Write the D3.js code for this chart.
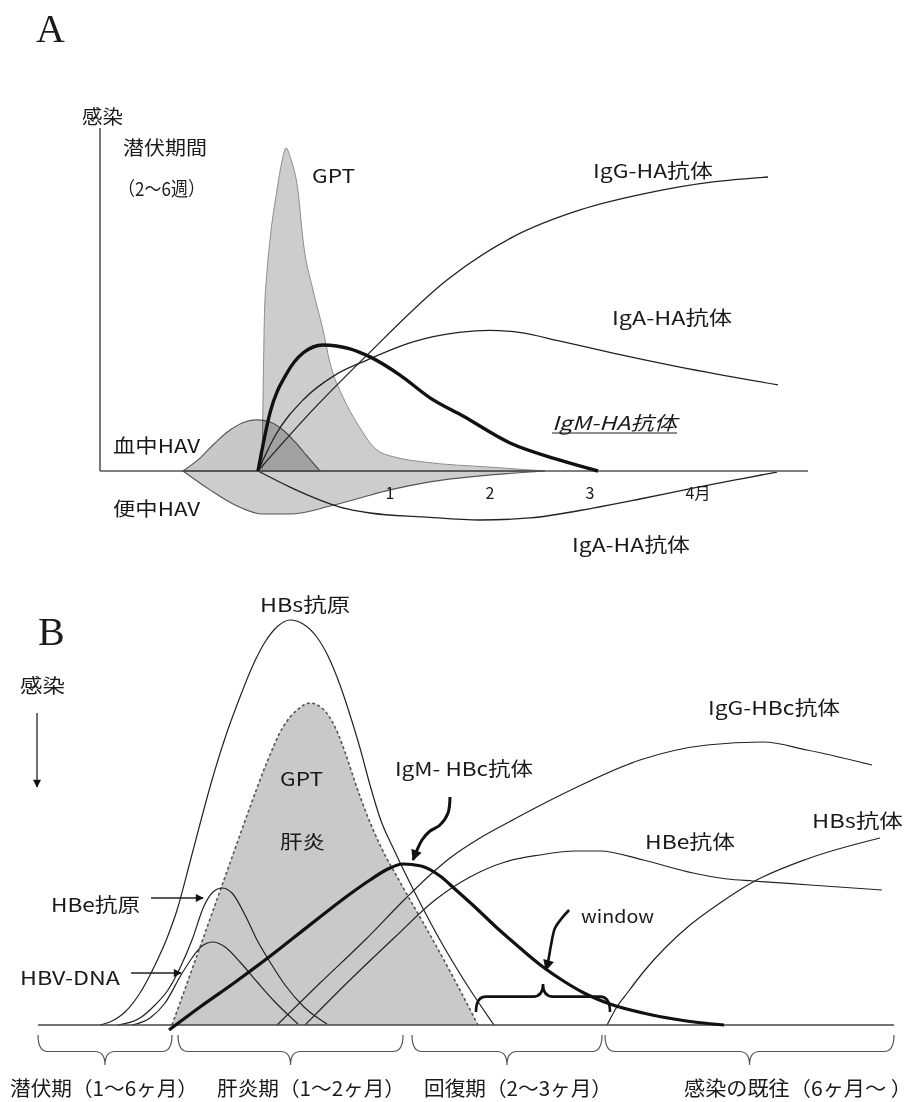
<!DOCTYPE html>
<html><head><meta charset="utf-8">
<script src="https://cdn.jsdelivr.net/npm/d3@7"></script>
<style>
body{margin:0;background:#fff;}
text{font-family:"Noto Sans CJK JP","Noto Sans",sans-serif;fill:#1a1a1a;}
</style></head><body>
<svg id="c" width="916" height="1102"></svg>
<script>
// ---------- Panel A data: [month, level] ----------
const aTickMonths = [1, 2, 3, 4];
const aTickLabels = ["1", "2", "3", "4月"];
const aBaselineExtent = [-1.89, 5.19];
const aAxisTop = 98;
const aBloodHAV = [[-1.06,0],[-0.89,3.7],[-0.74,8],[-0.59,11.7],[-0.44,14],[-0.32,14.6],[-0.19,14],[-0.06,11.7],[0.06,8.3],[0.18,4.3],[0.31,0]];
const aStoolHAV = [[-1.06,0],[-0.79,-5.4],[-0.54,-9.7],[-0.26,-12.3],[0.01,-12.3],[0.41,-10],[0.71,-7.7],[1.01,-5.4],[1.41,-3.1],[1.91,-1.4],[2.56,0]];
const aGPT = [[-0.27,0],[-0.26,20],[-0.245,45],[-0.22,57],[-0.19,66],[-0.12,80.3],[-0.07,88.5],[-0.03,92.3],[0.02,89],[0.09,80],[0.14,66],[0.24,51.7],[0.34,40.3],[0.41,30.9],[0.54,21.1],[0.68,13.7],[0.88,6],[1.1,3.7],[1.34,2.6],[2.01,1.1],[2.56,0]];
const aIgM = [[-0.31,0],[-0.19,16.6],[-0.02,28],[0.14,33.7],[0.34,36],[0.61,34.9],[0.81,32.6],[1.11,27.4],[1.41,20.9],[1.74,15.7],[2.21,8],[2.71,3.1],[3.09,0]];
const aIgG = [[-0.31,0],[0.21,16.6],[0.78,33.1],[1.58,54.6],[2.24,66.9],[2.91,74.6],[3.58,79.4],[4.24,82.6],[4.79,84]];
const aIgAUpper = [[-0.31,0],[-0.14,10],[0.14,20.3],[0.46,27.4],[0.78,31.7],[1.24,36.9],[1.7,39.6],[2.0,40.2],[2.3,39.6],[2.7,37.2],[3.24,33.7],[3.91,29.7],[4.89,24.6]];
const aIgALower = [[-0.31,0],[0.01,-4.6],[0.31,-8.3],[0.51,-10.3],[0.81,-12],[1.34,-13.1],[1.91,-14],[2.41,-13.4],[3.04,-10.6],[3.51,-8],[4.04,-4.9],[4.51,-2.3],[4.88,-0.3]];

// ---------- Panel B data: [time unit, level] ----------
const bBaselineExtent = [0, 107];
const bHBsAg = [[7.75,0],[9.25,1],[10.88,3.25],[12.75,8],[14.63,15],[16.13,21.75],[17.38,28.75],[19,40.75],[20.25,50.25],[21.75,61.25],[23.38,71.75],[25.25,82],[26.88,90],[28.38,95.75],[30,99.75],[31.5,101.25],[33.13,100.25],[34.75,97.25],[36.25,92.25],[37.75,85],[39,77.5],[40.25,69.25],[41.5,60],[42.75,51.75],[44.63,43.25],[47.13,33],[50.25,21.25],[53.63,10],[57,0]];
const bGPT = [[16.75,0],[19,12.5],[21.5,26.5],[24,40.5],[26.5,54.5],[28.63,65.75],[30.63,74.5],[32.38,78.75],[34,80.5],[35.63,79],[37.13,74.5],[38.5,67.5],[39.75,60],[41.13,52.5],[42.75,45],[45.25,35.75],[48.38,24.75],[51.75,12.5],[55,0]];
const bHBeAg = [[10,0],[12.75,1.75],[14.63,5],[16.25,8.75],[17.75,14.25],[19.25,21.25],[20.75,29.75],[21.88,33.25],[23,34.25],[24.25,33],[25.88,27.5],[27.38,21.25],[29,15.75],[30.88,10],[33.25,4.5],[36.13,0.25]];
const bHBVDNA = [[11.75,0],[14,1.75],[15.88,5.5],[17.88,12.5],[19.25,16.75],[20.5,19.75],[21.88,20.75],[23.38,19.5],[25.25,15.75],[27.5,10.5],[29.63,5.75],[32.5,0.25]];
const bIgMHBc = [[16.38,-1.25],[20.25,4.5],[24.5,10.5],[28.38,16.25],[31.75,21.5],[35.25,27],[39,32.75],[41.5,36.25],[43.5,38.75],[45.63,40.25],[47.88,39.75],[50.25,37.25],[52.25,33.75],[54.75,29.25],[57.25,24.5],[60.25,19.25],[63.13,14.5],[65.88,10.75],[68.25,8],[71.5,5.25],[75.63,3],[80.25,1.25],[85.75,0]];
const bIgGHBc = [[29.88,0],[35.25,10.5],[40.88,21.25],[45.88,31.5],[49,37.5],[51.5,41.75],[55.25,46.75],[58.63,50.5],[66.88,59],[75.25,66.25],[83.63,70],[90.63,70.75],[96.13,68.75],[104.25,65]];
const bHBeAb = [[33.38,0],[39,11.25],[44.63,22],[49.63,31.25],[54,37],[58.38,40.75],[62.75,42.5],[67.13,43.5],[70.25,43.5],[75.63,41.25],[81.88,38],[86.13,36.5],[89.38,36],[96.5,35],[105.5,33.75]];
const bHBsAb = [[71.13,0],[72.13,3.75],[73.75,8.25],[75.88,13.75],[78.38,19.25],[81.5,25],[85.25,30.5],[89.38,35.75],[96.13,41.5],[105.25,46.75]];
const bPeriods = [[0,16.75],[17.5,45.63],[46.75,70.5],[70.88,107]];
const bPeriodLabels = ["潜伏期（1〜6ヶ月）","肝炎期（1〜2ヶ月）","回復期（2〜3ヶ月）","感染の既往（6ヶ月〜 ）"];
const bWindow = [54.75, 71.5];
const bIgMArrow = [[51.5,57],[51.25,53],[50.25,50],[49,48.5],[48,46.25],[47.38,43.75],[46.88,41.25]];
const bWindowArrow = [[66.38,28.75],[65.5,26.75],[64.63,24.25],[64.13,20],[63.75,15.75],[63.5,13.75]];
const bHBeArrow = [[14.13,31.75],[20.63,31.75]];
const bHBVArrow = [[11.63,13],[17.88,13]];

// ---------- scales ----------
const xA = d3.scaleLinear().domain([0,4]).range([289,689]);
const yA = d3.scaleLinear().domain([0,100]).range([471,121]);
const xB = d3.scaleLinear().domain([0,107]).range([38,894]);
const yB = d3.scaleLinear().domain([0,100]).range([1025,625]);

const svg = d3.select("#c");
const defs = svg.append("defs");
function marker(id, w, h){
  defs.append("marker").attr("id",id).attr("viewBox","0 0 10 10").attr("refX",9).attr("refY",5)
    .attr("markerWidth",w).attr("markerHeight",h).attr("markerUnits","userSpaceOnUse").attr("orient","auto")
    .append("path").attr("d","M0,0L10,5L0,10z").attr("fill","#111");
}
marker("ah",10,8); marker("ahBig",13,11);

function label(g, str, x1, x2, cy, size, opts={}){
  const t = g.append("text").attr("x",x1).attr("y",cy).attr("dominant-baseline","central")
    .attr("font-size",size).text(str);
  if (x2) t.attr("textLength",x2-x1).attr("lengthAdjust","spacingAndGlyphs");
  if (opts.italic) t.attr("font-style","italic");
  if (opts.family) t.style("font-family",opts.family);
  return t;
}

// ================= Panel A =================
const gA = svg.append("g");
const areaA = d3.area().x(d=>xA(d[0])).y0(yA(0)).y1(d=>yA(d[1])).curve(d3.curveMonotoneX);
const lineA = d3.line().x(d=>xA(d[0])).y(d=>yA(d[1])).curve(d3.curveMonotoneX);

gA.append("path").attr("d",areaA(aStoolHAV)).attr("fill","#cdcdcd").attr("stroke","#555").attr("stroke-width",1.1);
gA.append("path").attr("d",areaA(aGPT)).attr("fill","#cdcdcd").attr("stroke","#8c8c8c").attr("stroke-width",1).style("mix-blend-mode","multiply");
gA.append("path").attr("d",areaA(aBloodHAV)).attr("fill","#c8c8c8").attr("stroke","#555").attr("stroke-width",1.1).style("mix-blend-mode","multiply");

[aIgG, aIgAUpper, aIgALower].forEach(s=>{
  gA.append("path").attr("d",lineA(s)).attr("fill","none").attr("stroke","#222").attr("stroke-width",1.3);
});
// axes
gA.append("line").attr("x1",xA(aBaselineExtent[0])).attr("x2",xA(aBaselineExtent[0]))
  .attr("y1",yA(0)).attr("y2",yA(aAxisTop)).attr("stroke","#555").attr("stroke-width",1.6);
gA.append("line").attr("x1",xA(aBaselineExtent[0])).attr("x2",xA(aBaselineExtent[1]))
  .attr("y1",yA(0)).attr("y2",yA(0)).attr("stroke","#555").attr("stroke-width",1.6);
gA.append("path").attr("d",lineA(aIgM)).attr("fill","none").attr("stroke","#111").attr("stroke-width",3.4);

const axA = gA.append("g").attr("transform",`translate(0,${yA(0)})`)
  .call(d3.axisBottom(xA).tickValues(aTickMonths).tickFormat((d,i)=>aTickLabels[i]).tickSize(0).tickPadding(17));
axA.select(".domain").remove();
axA.selectAll("text").attr("font-size",16).attr("text-anchor","start").attr("dx",-4)
  .style("font-family",'"Noto Sans CJK JP",sans-serif').attr("fill","#222");

label(gA,"A",36,null,28,40,{family:'"Liberation Serif",serif'});
label(gA,"感染",82,123,115,19);
label(gA,"潜伏期間",123,207,146,19);
label(gA,"（2〜6週）",118,205,187,19);
label(gA,"GPT",312,355,174,19);
label(gA,"IgG-HA抗体",593,713,169,19);
label(gA,"IgA-HA抗体",612,732,316,19);
label(gA,"IgM-HA抗体",552,677,421,19,{italic:true});
gA.append("line").attr("x1",552).attr("x2",677).attr("y1",433).attr("y2",433).attr("stroke","#222").attr("stroke-width",1.2);
label(gA,"血中HAV",113,200,444,19);
label(gA,"便中HAV",113,200,507,19);
label(gA,"IgA-HA抗体",572,690,543,19);

// ================= Panel B =================
const gB = svg.append("g");
const areaB = d3.area().x(d=>xB(d[0])).y0(yB(0)).y1(d=>yB(d[1])).curve(d3.curveMonotoneX);
const lineB = d3.line().x(d=>xB(d[0])).y(d=>yB(d[1])).curve(d3.curveMonotoneX);
const freeB = d3.line().x(d=>xB(d[0])).y(d=>yB(d[1])).curve(d3.curveCatmullRom);

gB.append("path").attr("d",areaB(bGPT)).attr("fill","#c9c9c9").attr("stroke","none");
gB.append("path").attr("d",lineB(bGPT)).attr("fill","none").attr("stroke","#555").attr("stroke-width",1.6).attr("stroke-dasharray","3,2.5");

[bHBsAg, bHBeAg, bHBVDNA, bIgGHBc, bHBeAb, bHBsAb].forEach(s=>{
  gB.append("path").attr("d",lineB(s)).attr("fill","none").attr("stroke","#222").attr("stroke-width",1.2);
});
gB.append("line").attr("x1",xB(bBaselineExtent[0])).attr("x2",xB(bBaselineExtent[1]))
  .attr("y1",yB(0)).attr("y2",yB(0)).attr("stroke","#444").attr("stroke-width",1.4);
gB.append("path").attr("d",lineB(bIgMHBc)).attr("fill","none").attr("stroke","#111").attr("stroke-width",3.2);

// braces
function brace(x1,x2,y0,depth,tipX){
  const xm = tipX===undefined ? (x1+x2)/2 : tipX, r = 10, y1 = y0+depth*0.55, y2 = y0+depth;
  return `M${x1},${y0} Q${x1},${y1} ${x1+r},${y1} L${xm-r},${y1} Q${xm},${y1} ${xm},${y2} Q${xm},${y1} ${xm+r},${y1} L${x2-r},${y1} Q${x2},${y1} ${x2},${y0}`;
}
bPeriods.forEach(p=>{
  gB.append("path").attr("d",brace(xB(p[0]),xB(p[1]),1035,30)).attr("fill","none").attr("stroke","#555").attr("stroke-width",1.2);
});
gB.append("path").attr("d",brace(xB(bWindow[0]),xB(bWindow[1]),1012,-28)).attr("fill","none").attr("stroke","#111").attr("stroke-width",2.6);

// arrows
gB.append("path").attr("d",freeB(bIgMArrow)).attr("fill","none").attr("stroke","#111").attr("stroke-width",3).attr("marker-end","url(#ahBig)");
gB.append("path").attr("d",freeB(bWindowArrow)).attr("fill","none").attr("stroke","#111").attr("stroke-width",2.6).attr("marker-end","url(#ahBig)");
gB.append("path").attr("d",freeB(bHBeArrow)).attr("fill","none").attr("stroke","#222").attr("stroke-width",1.3).attr("marker-end","url(#ah)");
gB.append("path").attr("d",freeB(bHBVArrow)).attr("fill","none").attr("stroke","#222").attr("stroke-width",1.3).attr("marker-end","url(#ah)");
gB.append("line").attr("x1",37).attr("x2",37).attr("y1",713).attr("y2",787).attr("stroke","#222").attr("stroke-width",1.3).attr("marker-end","url(#ah)");

label(gB,"B",38,null,631,40,{family:'"Liberation Serif",serif'});
label(gB,"感染",20,65,684,19);
label(gB,"HBs抗原",260,350,603,19);
label(gB,"GPT",280,323,777,19);
label(gB,"肝炎",280,325,840,19);
label(gB,"IgM- HBc抗体",395,533,767,19);
label(gB,"IgG-HBc抗体",708,840,706,19);
label(gB,"HBe抗体",645,735,840,19);
label(gB,"HBs抗体",812,903,819,19);
label(gB,"HBe抗原",51,140,903,19);
label(gB,"HBV-DNA",20,120,976,19);
label(gB,"window",581,654,915,17);
const bLabelX = [[10,198],[217,405],[424,612],[684,912]];
bPeriodLabels.forEach((s,i)=>label(gB,s,bLabelX[i][0],bLabelX[i][1],1087,20));
</script>
</body></html>
